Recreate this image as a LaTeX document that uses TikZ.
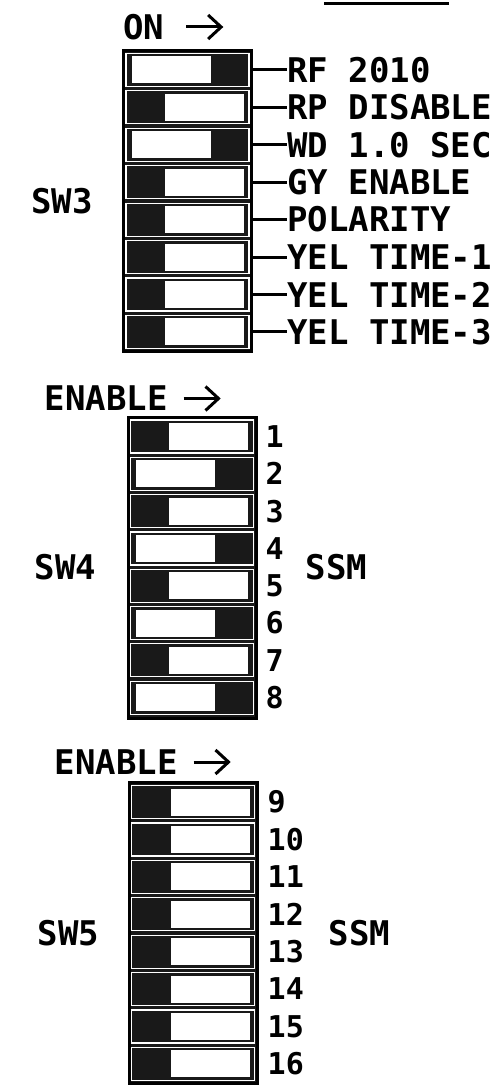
\documentclass[tikz,border=0pt]{standalone}
\usepackage{fontspec}
\setmainfont{DejaVu Sans Mono}
\usetikzlibrary{arrows.meta}

\tikzset{
  swbox/.style={draw=black, line width=3pt, fill=black!90, minimum width=128pt, minimum height=301pt, inner sep=0pt},
  swrow/.style={draw=white, line width=1.2pt, minimum width=123pt, minimum height=33pt, inner sep=0pt},
  tag/.style={font=\fontsize{34}{37}\selectfont\bfseries, inner sep=0pt},
  num/.style={font=\fontsize{30}{33}\selectfont\bfseries, inner sep=0pt},
  lead/.style={line width=3pt},
  onarrow/.style={line width=3pt, -{Straight Barb[length=13pt, width=24pt]}}
}

\begin{document}
\begin{tikzpicture}[x=1pt, y=-1pt]
  \useasboundingbox (0,0) rectangle (497,1086);
  \draw[line width=3pt] (324,4) -- (449,4);

  % SW3
  \node[swbox] (sw3) at (187.5,201) {};
  \path (sw3.north west) + (1,-22) node[tag, anchor=west] (on) {ON};
  \draw[onarrow] (on.east) ++(22,0) -- ++(37,0);
  \path (sw3.west) + (-60,0) node[tag] (sw3-name) {SW3};
  \foreach \k/\s/\txt in {1/0/{RF 2010}, 2/1/{RP DISABLE}, 3/0/{WD 1.0 SEC}, 4/1/{GY ENABLE},
                          5/1/{POLARITY}, 6/1/{YEL TIME-1}, 7/1/{YEL TIME-2}, 8/1/{YEL TIME-3}}{
    \pgfmathsetmacro\sl{\s==1 ? -22.5 : -55.5}
    \path (sw3.north) + (0,{21+37.4*(\k-1)}) node[swrow] (sw3-\k) {};
    \fill[white] (sw3-\k.center) ++(\sl,-13.5) rectangle ++(79,27);
    \path (sw3-\k.center -| sw3.east) + (34,0) node[tag, anchor=west] (sw3-\k-txt) {\txt};
    \draw[lead] (sw3-\k.center -| sw3.east) -- (sw3-\k-txt.west);
  }

  % SW4
  \node[swbox] (sw4) at (192,567.5) {};
  \path (sw4.north west) + (-82,-17) node[tag, anchor=west] (en4) {ENABLE};
  \draw[onarrow] (en4.east) ++(16,0) -- ++(37,0);
  \path (sw4.west) + (-61,0) node[tag] (sw4-name) {SW4};
  \path (sw4.east) + (48,0) node[tag, anchor=west] (ssm4) {SSM};
  \foreach \k/\s in {1/1, 2/0, 3/1, 4/0, 5/1, 6/0, 7/1, 8/0}{
    \pgfmathsetmacro\sl{\s==1 ? -23 : -56}
    \path (sw4.north) + (0,{21+37.3*(\k-1)}) node[swrow] (sw4-\k) {};
    \fill[white] (sw4-\k.center) ++(\sl,-13.5) rectangle ++(79,27);
    \path (sw4-\k.center -| sw4.east) + (8,0) node[num, anchor=west] (sw4-\k-num) {\k};
  }

  % SW5
  \node[swbox] (sw5) at (193,933) {};
  \path (sw5.north west) + (-73,-19) node[tag, anchor=west] (en5) {ENABLE};
  \draw[onarrow] (en5.east) ++(16,0) -- ++(37,0);
  \path (sw5.west) + (-59,0) node[tag] (sw5-name) {SW5};
  \path (sw5.east) + (70,0) node[tag, anchor=west] (ssm5) {SSM};
  \foreach \k in {1,...,8}{
    \pgfmathtruncatemacro\n{\k+8}
    \path (sw5.north) + (0,{21+37.4*(\k-1)}) node[swrow] (sw5-\k) {};
    \fill[white] (sw5-\k.center) ++(-22,-13.5) rectangle ++(79,27);
    \path (sw5-\k.center -| sw5.east) + (9,0) node[num, anchor=west] (sw5-\k-num) {\n};
  }
\end{tikzpicture}
\end{document}
